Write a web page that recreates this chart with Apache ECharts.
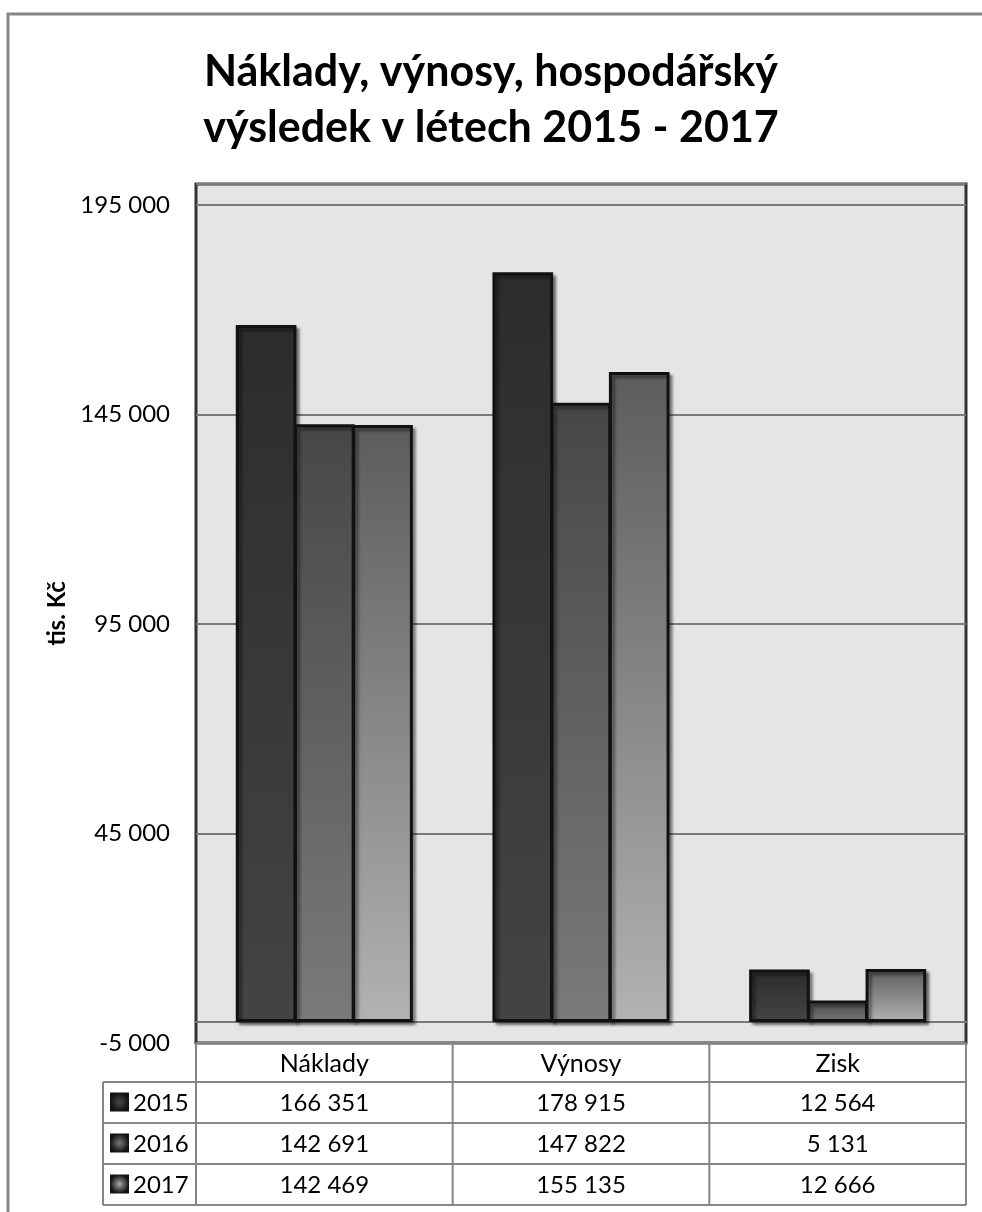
<!DOCTYPE html>
<html>
<head>
<meta charset="utf-8">
<script src="https://cdn.jsdelivr.net/npm/echarts@6/dist/echarts.min.js"></script>
<style>
  html, body { margin: 0; padding: 0; background: #fff; }
  #chart { width: 982px; height: 1212px; }
</style>
</head>
<body>
<div id="chart"></div>
<script>
  var categories = ['Náklady', 'Výnosy', 'Zisk'];
  var years = ['2015', '2016', '2017'];
  var values2015 = [166351, 178915, 12564];
  var values2016 = [142691, 147822, 5131];
  var values2017 = [142469, 155135, 12666];
  var yTicks = [-5000, 45000, 95000, 145000, 195000];

  var FONT = 'Lato, "Open Sans", sans-serif';
  // plot area in px
  var gLeft = 196, gTop = 184, gWidth = 770, gHeight = 859;
  var headH = 39, rowH = 41, keyLeft = 103;

  function fmt(v) {
    return String(v).replace(/\B(?=(\d{3})+(?!\d))/g, ' ');
  }

  function grad(top, bottom) {
    return new echarts.graphic.LinearGradient(0, 0, 0, 1, [
      { offset: 0, color: top },
      { offset: 1, color: bottom }
    ]);
  }

  var barFills = [grad('#2c2c2c', '#444444'), grad('#474747', '#7a7a7a'), grad('#5c5c5c', '#b2b2b2')];
  var keyFills = ['#4a4a4a', '#777777', '#a8a8a8'];
  var seriesValues = [values2015, values2016, values2017];

  // data table under the plot
  var graphic = [];
  var lineStyle = { stroke: '#858585', lineWidth: 2 };
  var tTop = gTop + gHeight;
  var tBottom = tTop + headH + rowH * years.length;
  var colW = gWidth / categories.length;
  function hline(x1, x2, y) {
    graphic.push({ type: 'line', shape: { x1: x1, y1: y, x2: x2, y2: y }, style: lineStyle, z: 10 });
  }
  function vline(x, y1, y2) {
    graphic.push({ type: 'line', shape: { x1: x, y1: y1, x2: x, y2: y2 }, style: lineStyle, z: 10 });
  }
  for (var c = 0; c <= categories.length; c++) {
    vline(gLeft + c * colW, tTop, tBottom);
  }
  vline(keyLeft, tTop + headH, tBottom);
  hline(gLeft, gLeft + gWidth, tTop);
  for (var r = 0; r <= years.length; r++) {
    hline(keyLeft, gLeft + gWidth, tTop + headH + r * rowH);
  }
  categories.forEach(function (name, i) {
    graphic.push({
      type: 'text', z: 11,
      style: { text: name, x: gLeft + (i + 0.5) * colW, y: tTop + headH / 2 + 1,
        align: 'center', verticalAlign: 'middle', font: '25px ' + FONT, fill: '#000' }
    });
  });
  years.forEach(function (year, r) {
    var cy = tTop + headH + (r + 0.5) * rowH;
    graphic.push({
      type: 'rect', z: 11,
      shape: { x: keyLeft + 7, y: cy - 10, width: 19, height: 19 },
      style: {
        fill: new echarts.graphic.RadialGradient(0.5, 0.5, 0.5, [
          { offset: 0, color: keyFills[r] },
          { offset: 1, color: '#111' }
        ])
      }
    });
    graphic.push({
      type: 'text', z: 11,
      style: { text: year, x: keyLeft + 30, y: cy + 1, align: 'left', verticalAlign: 'middle',
        font: '24px ' + FONT, fill: '#000' }
    });
    seriesValues[r].forEach(function (v, i) {
      graphic.push({
        type: 'text', z: 11,
        style: { text: fmt(v), x: gLeft + (i + 0.5) * colW, y: cy + 1,
          align: 'center', verticalAlign: 'middle', font: '24px ' + FONT, fill: '#000' }
      });
    });
  });
  // outer chart border
  graphic.push({
    type: 'rect', z: 0,
    shape: { x: 8, y: 14, width: 1000, height: 1240 },
    style: { fill: 'none', stroke: '#858585', lineWidth: 3 }
  });

  var option = {
    animation: false,
    backgroundColor: '#fff',
    title: {
      text: 'Náklady, výnosy, hospodářský\nvýsledek v létech 2015 - 2017',
      left: 'center',
      top: 39,
      textStyle: { fontFamily: FONT, fontSize: 43, fontWeight: 'bold', color: '#000', lineHeight: 56 }
    },
    grid: {
      left: gLeft, top: gTop, width: gWidth, height: gHeight,
      show: true, backgroundColor: '#e5e5e4', borderColor: '#333', borderWidth: 3
    },
    xAxis: {
      type: 'category',
      data: categories,
      axisLine: { onZero: true, lineStyle: { color: '#7a7a7a', width: 2 } },
      axisTick: { show: false },
      axisLabel: { show: false },
      splitLine: { show: false }
    },
    yAxis: {
      type: 'value',
      min: yTicks[0],
      max: 200000,
      interval: yTicks[1] - yTicks[0],
      name: 'tis. Kč',
      nameLocation: 'middle',
      nameRotate: 90,
      nameGap: 121,
      nameTextStyle: { fontFamily: FONT, fontSize: 24, fontWeight: 'bold', color: '#000' },
      axisLine: { show: false },
      axisTick: { show: false },
      axisLabel: {
        showMaxLabel: false,
        margin: 26,
        fontFamily: FONT, fontSize: 24, color: '#000',
        formatter: function (v) { return yTicks.indexOf(v) >= 0 ? fmt(v) : ''; }
      },
      splitLine: { lineStyle: { color: '#7a7a7a', width: 2 } }
    },
    series: years.map(function (year, i) {
      return {
        name: year,
        type: 'bar',
        data: seriesValues[i],
        barGap: '-4%',
        barCategoryGap: '31%',
        itemStyle: {
          color: barFills[i],
          borderColor: '#111',
          borderWidth: 3,
          shadowColor: 'rgba(0,0,0,0.45)',
          shadowOffsetX: 3,
          shadowOffsetY: 3,
          shadowBlur: 3
        }
      };
    }),
    graphic: graphic
  };

  var chart = echarts.init(document.getElementById('chart'));
  chart.setOption(option);
</script>
</body>
</html>
